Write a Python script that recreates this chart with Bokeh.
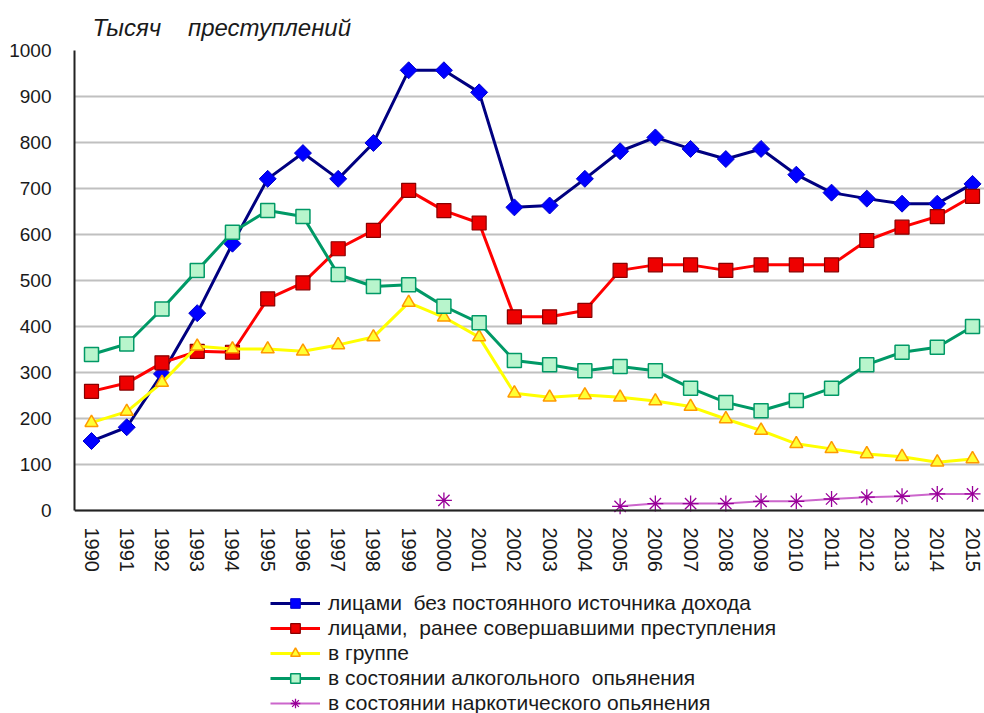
import numpy as np
from bokeh.plotting import figure
from bokeh.models import Legend, LegendItem, FixedTicker, ColumnDataSource, Range1d, LinearAxis
from bokeh.embed import file_html
from bokeh.resources import INLINE

years = list(range(1990, 2016))

no_income = [151, 181, 297, 429, 580, 721, 777, 721, 799, 957, 957, 909, 659, 663, 721,
             781, 811, 786, 764, 786, 730, 691, 678, 667, 667, 710]
repeat = [259, 277, 321, 346, 344, 460, 495, 569, 609, 696, 652, 625, 421, 421, 435,
          522, 534, 534, 522, 534, 534, 534, 587, 616, 639, 683]
group = [191, 215, 278, 357, 351, 351, 346, 360, 377, 452, 420, 377, 255, 246, 251,
         246, 238, 226, 199, 174, 145, 134, 123, 117, 105, 112]
alcohol = [339, 362, 438, 522, 605, 652, 639, 513, 487, 491, 444, 408, 326, 317, 304,
           313, 304, 266, 235, 217, 239, 266, 317, 344, 355, 400]
drugs = [None] * 10 + [22] + [None] * 4 + [9, 15, 15, 15, 20, 20, 25, 29, 31, 36, 36]

names = ["лицами  без постоянного источника дохода",
         "лицами,  ранее совершавшими преступления",
         "в группе",
         "в состоянии алкогольного  опьянения",
         "в состоянии наркотического опьянения"]
y_ticks = list(range(0, 1001, 100))

FONT = "Liberation Sans"

# frame spans from the plot top down to the bottom of the page; the value axis
# runs 0..1000 in the upper part, the lower part holds year labels and legend
p = figure(width=984, height=713, output_backend="svg", toolbar_location=None,
           x_range=Range1d(1989.5176, 2015.34), y_range=Range1d(-441.3, 1000),
           x_axis_location=None,
           min_border_left=74, min_border_top=50, min_border_right=0, min_border_bottom=0,
           title="Тысяч\u00a0\u00a0\u00a0\u00a0преступлений")
p.title.text_font = FONT
p.title.text_font_style = "italic"
p.title.text_font_size = "24px"
p.title.text_color = "#1a1a1a"
p.title.offset = 18
p.title.standoff = 19
p.outline_line_color = None
p.background_fill_color = "white"
p.border_fill_color = "white"

p.xgrid.grid_line_color = None
p.ygrid.grid_line_color = "#c0c0c0"
p.ygrid.grid_line_width = 2
p.ygrid.ticker = FixedTicker(ticks=y_ticks)

p.yaxis.ticker = FixedTicker(ticks=y_ticks)
p.yaxis.bounds = (0, 1000)
p.yaxis.axis_line_color = "#222222"
p.yaxis.axis_line_width = 2
p.yaxis.major_tick_line_color = None
p.yaxis.minor_tick_line_color = None
p.yaxis.major_label_text_font = FONT
p.yaxis.major_label_text_font_size = "19px"
p.yaxis.major_label_text_color = "#1a1a1a"
p.yaxis.major_label_standoff = 17

xaxis = LinearAxis(fixed_location=0, ticker=FixedTicker(ticks=years),
                   axis_line_color="#222222", axis_line_width=2,
                   major_tick_line_color=None, minor_tick_line_color=None,
                   major_label_orientation="vertical",
                   major_label_text_font=FONT, major_label_text_font_size="20px",
                   major_label_text_color="#1a1a1a", major_label_standoff=11)
p.add_layout(xaxis, "below")

src = ColumnDataSource(dict(x=years, a=no_income, b=repeat, c=group, d=alcohol,
                            e=[np.nan if v is None else v for v in drugs]))

l1 = p.line("x", "a", source=src, line_color="#000080", line_width=3)
m1 = p.scatter("x", "a", source=src, marker="square", size=12, angle=np.pi / 4,
               fill_color="#0000ff", line_color="#0000cc", line_width=1)
l2 = p.line("x", "b", source=src, line_color="#ff0000", line_width=3)
m2 = p.scatter("x", "b", source=src, marker="square", size=14, fill_color="#ee0000",
               line_color="#880000", line_width=1.2)
l3 = p.line("x", "c", source=src, line_color="#ffff00", line_width=3)
m3 = p.scatter("x", "c", source=src, marker="triangle", size=13, fill_color="#ffff33",
               line_color="#ff9900", line_width=1.5)
l4 = p.line("x", "d", source=src, line_color="#009966", line_width=3)
m4 = p.scatter("x", "d", source=src, marker="square", size=14, fill_color="#b8f5cc",
               line_color="#009966", line_width=1.5)
l5 = p.line("x", "e", source=src, line_color="#cc66cc", line_width=2)
m5 = p.scatter("x", "e", source=src, marker="asterisk", size=16, fill_color=None,
               line_color="#990099", line_width=1.3)

legend = Legend(items=[LegendItem(label=names[0], renderers=[l1, m1]),
                       LegendItem(label=names[1], renderers=[l2, m2]),
                       LegendItem(label=names[2], renderers=[l3, m3]),
                       LegendItem(label=names[3], renderers=[l4, m4]),
                       LegendItem(label=names[4], renderers=[l5, m5])],
                location=(196, -2), orientation="vertical",
                border_line_color=None, background_fill_alpha=0,
                padding=0, margin=0, spacing=1, glyph_width=50, glyph_height=24,
                label_height=24, label_standoff=8,
                label_text_font=FONT, label_text_font_size="21px",
                label_text_color="#1a1a1a")
p.add_layout(legend, "center")

open("out.html", "w").write(file_html(p, INLINE))
